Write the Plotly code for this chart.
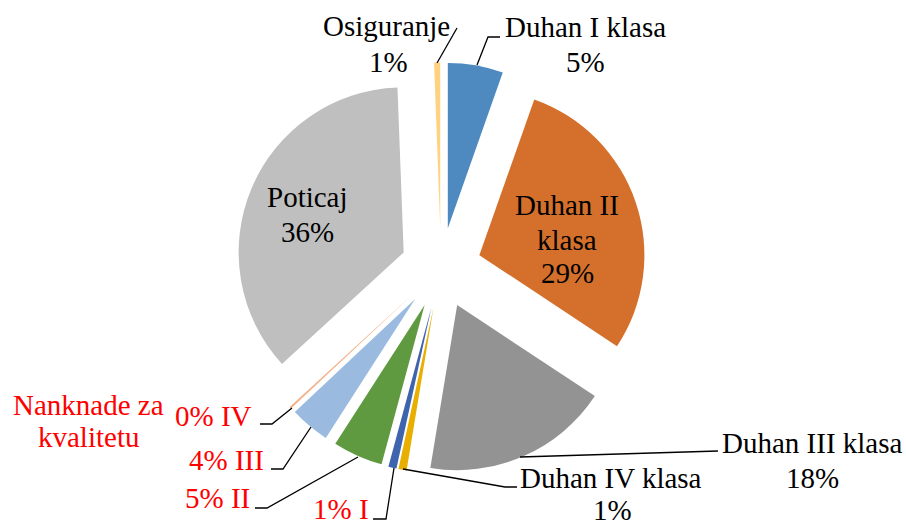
import plotly.graph_objects as go

# ---- data ----
slice_names = ["Duhan I klasa", "Duhan II klasa", "Duhan III klasa", "Duhan IV klasa",
               "I", "II", "III", "IV", "Poticaj", "Osiguranje"]
slice_values = [5.4, 28.9, 18.3, 0.8, 0.8, 4.9, 3.9, 0.2, 36.2, 0.6]
slice_colors = ["#4E89C0", "#D4702B", "#939393", "#E8AE00", "#3D64AD", "#5F9A41",
                "#9ABAE0", "#F4B08A", "#BFBFBF", "#FFD282"]
quality_group_label = ["Nanknade za", "kvalitetu"]

W, H = 906, 523
FONT = "Liberation Serif"
FS = 29
RED = "#FF0000"

def pct(i):
    return f"{round(slice_values[i])}%"

fig = go.Figure(go.Pie(
    labels=slice_names,
    values=slice_values,
    sort=False,
    direction="clockwise",
    rotation=0,
    pull=[0.245] * len(slice_values),
    marker=dict(colors=slice_colors, line=dict(width=0)),
    textinfo="none",
    hoverinfo="label+percent",
    domain=dict(x=[235.5 / W, 646.5 / W], y=[1 - 473.5 / H, 1 - 62.5 / H]),
    showlegend=False,
))

def P(x, y):
    return x / W, 1 - y / H

annotations = []
def label(x, y, text, color="black"):
    px, py = P(x, y)
    annotations.append(dict(x=px, y=py, xref="paper", yref="paper", text=text,
                            showarrow=False, xanchor="center", yanchor="middle",
                            font=dict(family=FONT, size=FS, color=color)))

shapes = []
def leader(points):
    path = ""
    for k, (x, y) in enumerate(points):
        px, py = P(x, y)
        path += ("M" if k == 0 else "L") + f"{px},{py} "
    shapes.append(dict(type="path", path=path.strip(), xref="paper", yref="paper",
                       line=dict(color="black", width=1.3)))

# Osiguranje
label(386, 26, slice_names[9]); label(388, 62, pct(9))
leader([(437, 63), (457, 28)])
# Duhan I klasa
label(585, 27, slice_names[0]); label(585, 62, pct(0))
leader([(477, 65), (488, 37), (500, 37)])
# Duhan II klasa (inside)
label(567, 205, "Duhan II"); label(567, 240, "klasa"); label(567, 273, pct(1))
# Poticaj (inside)
label(307, 197, slice_names[8]); label(307, 232, pct(8))
# Duhan III klasa
label(812, 443, slice_names[2]); label(812, 478, pct(2))
leader([(520, 457), (718, 451)])
# Duhan IV klasa
label(611, 478, slice_names[3]); label(612, 510, pct(3))
leader([(403, 469), (505, 487), (517, 487)])
# Nanknade za kvalitetu group
label(88, 405, quality_group_label[0], RED); label(88, 437, quality_group_label[1], RED)
label(213, 416, f"{pct(7)} {slice_names[7]}", RED)
leader([(260, 424), (272, 424), (292, 408)])
label(226, 460, f"{pct(6)} {slice_names[6]}", RED)
leader([(271, 469), (283, 469), (311, 427)])
label(217, 498, f"{pct(5)} {slice_names[5]}", RED)
leader([(255, 508), (267, 508), (358, 457)])
label(341, 509, f"{pct(4)} {slice_names[4]}", RED)
leader([(373, 519), (386, 519), (394, 468)])

fig.update_layout(
    width=W, height=H,
    margin=dict(l=0, r=0, t=0, b=0),
    paper_bgcolor="white", plot_bgcolor="white",
    annotations=annotations, shapes=shapes,
)

fig.write_html("out.html", config={"displayModeBar": False})

# remove the browser's default 8px page margin so the figure sits at (0, 0)
with open("out.html", "r", encoding="utf-8") as f:
    html = f.read()
html = html.replace("<head>", "<head><style>html,body{margin:0;padding:0;overflow:hidden;}</style>", 1)
with open("out.html", "w", encoding="utf-8") as f:
    f.write(html)
